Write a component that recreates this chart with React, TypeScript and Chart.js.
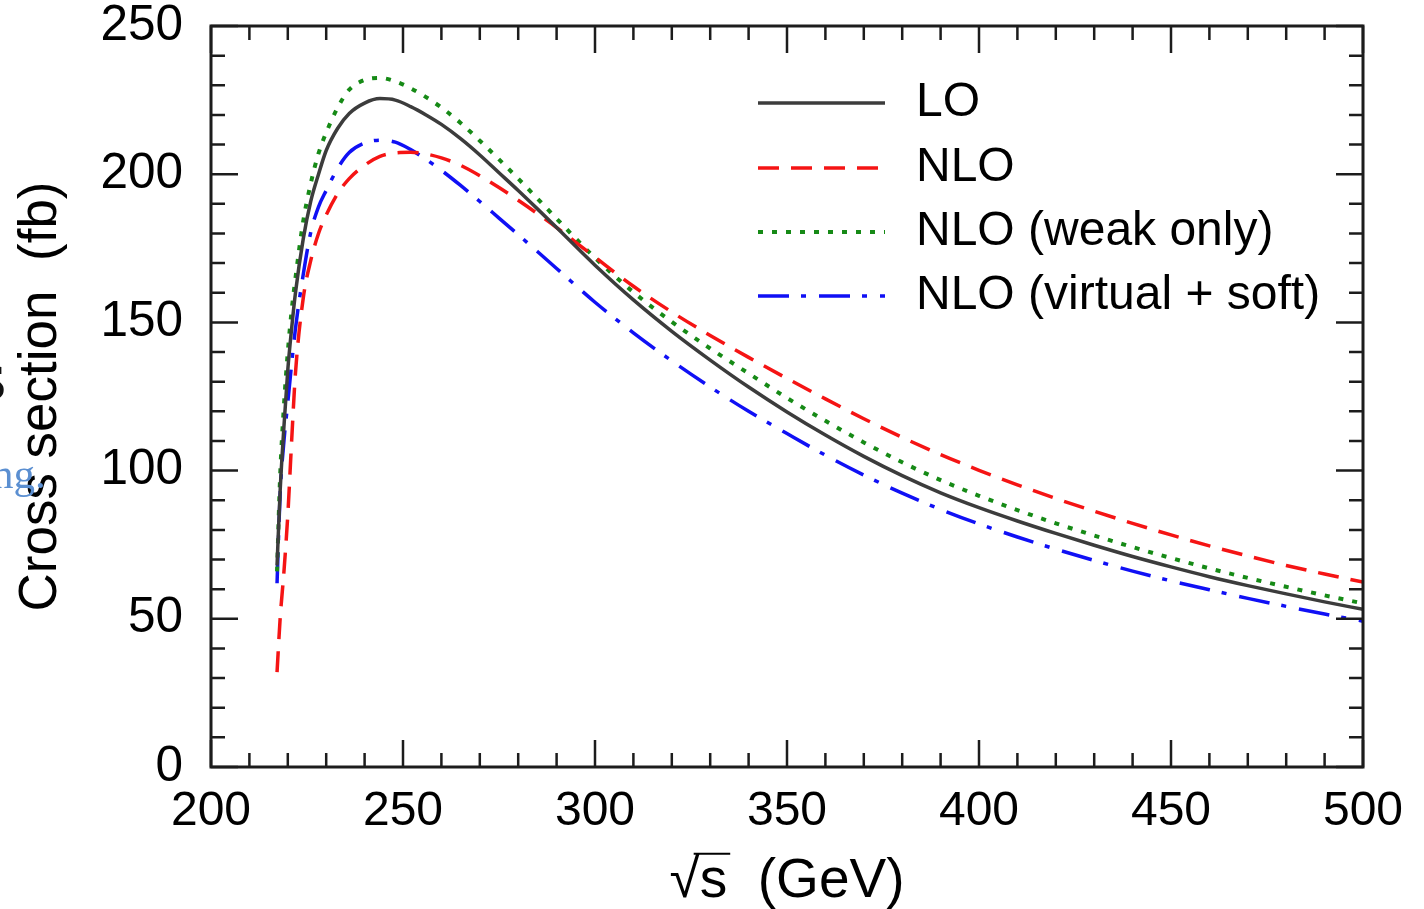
import React, { useEffect, useRef } from "react";
import { Chart, registerables } from "chart.js";

Chart.register(...registerables);

// Centre-of-mass energy grid (GeV)
const sqrtS = [
  217.2, 218, 219, 220, 221, 222, 224, 226, 228, 230, 233, 236, 240, 244, 248,
  252, 256, 260, 265, 270, 275, 280, 285, 290, 300, 310, 320, 330, 340, 350,
  360, 370, 380, 390, 400, 410, 420, 430, 440, 450, 460, 470, 480, 490, 500,
];

// Cross sections (fb)
const loXsec = [
  68, 93, 115, 134, 148, 160, 178, 191, 200, 208, 215.5, 220.5, 224, 225.5, 225,
  222.8, 220, 216.8, 212, 206.5, 200.5, 194.5, 188.3, 182, 169.3, 157.6, 147, 137.3, 128.2, 119.8,
  112, 104.8, 98.3, 92.5, 87.5, 83, 78.8, 74.8, 71, 67.5, 64.2, 61.2, 58.4, 55.7, 53.2,
];
const nloXsec = [
  32, 50, 66, 85, 110, 133, 158, 171, 180, 186.2, 193.5, 198.5, 203, 206, 207.2,
  207.4, 206.8, 205.5, 203, 199.5, 195.5, 191.2, 186.7, 182, 172, 162.2, 153.5, 145.6, 138.2, 131.1,
  124.2, 117.5, 111.2, 105.4, 100.1, 95.2, 90.6, 86.3, 82.2, 78.3, 74.6, 71.2, 68, 65.1, 62.4,
];
const nloWeakXsec = [
  66, 98, 122, 140, 154, 165, 184, 197, 207, 214, 222.5, 228.5, 231.8, 232.5, 231.3,
  229, 226, 222.5, 217.3, 211.3, 205, 198.5, 191.8, 185, 171.8, 160.2, 150.2, 141.2, 132.8, 124.5,
  116.8, 109.5, 102.8, 96.8, 91.5, 86.7, 82.2, 78.1, 74.2, 70.5, 67, 63.8, 60.8, 57.9, 55.2,
];
const nloVirtSoftXsec = [
  62, 92, 110, 123, 136, 148, 166, 180.5, 189, 194.5, 202, 207.3, 210.5, 211.5, 210.8,
  208.3, 205, 201.3, 196.2, 190.8, 185.2, 179.6, 173.9, 168.2, 156.8, 146.5, 137, 128.2, 120, 112.5,
  105.2, 98.5, 92.4, 86.9, 82, 77.6, 73.5, 69.7, 66.1, 62.8, 59.8, 56.9, 54.2, 51.6, 49.2,
];

const seriesLabels = ["LO", "NLO", "NLO (weak only)", "NLO (virtual + soft)"];

const xTitle = "\u221As  (GeV)";
const yTitle = "Cross section  (fb)";

const FONT = '"Liberation Sans", Arial, Helvetica, sans-serif';
const X_TICK_FONT_SIZE = 48;
const Y_TICK_FONT_SIZE = 49.5;
const LEGEND_FONT_SIZE = 48;
const X_TITLE_FONT_SIZE = 55;
const Y_TITLE_FONT_SIZE = 53;

const toPoints = (ys: number[]) => sqrtS.map((s, i) => ({ x: s, y: ys[i] }));

// Inward tick marks on all four sides, the frame, the legend and the
// bar over the "s" of the x-axis title.
const framePlugin = {
  id: "frameTicks",
  afterDatasetsDraw(chart: any) {
    const { ctx, chartArea } = chart;
    const { left, right, top, bottom } = chartArea;
    const xs = chart.scales.x;
    const ys = chart.scales.y;
    ctx.save();
    ctx.strokeStyle = "#1c1c1c";
    ctx.lineWidth = 2.5;
    ctx.setLineDash([]);
    ctx.beginPath();
    xs.ticks.forEach((t: any) => {
      const px = xs.getPixelForValue(t.value);
      const len = t.value % 50 === 0 ? 27 : 14;
      ctx.moveTo(px, bottom);
      ctx.lineTo(px, bottom - len);
      ctx.moveTo(px, top);
      ctx.lineTo(px, top + len);
    });
    ys.ticks.forEach((t: any) => {
      const py = ys.getPixelForValue(t.value);
      const len = t.value % 50 === 0 ? 27 : 14;
      ctx.moveTo(left, py);
      ctx.lineTo(left + len, py);
      ctx.moveTo(right, py);
      ctx.lineTo(right - len, py);
    });
    ctx.stroke();
    ctx.lineWidth = 3;
    ctx.strokeRect(left, top, right - left, bottom - top);
    ctx.restore();
  },
  afterDraw(chart: any) {
    const { ctx, chartArea } = chart;
    ctx.save();
    // legend
    const rowY = [103, 168, 232, 296];
    chart.data.datasets.forEach((ds: any, i: number) => {
      const y = rowY[i];
      ctx.beginPath();
      ctx.strokeStyle = ds.borderColor;
      ctx.lineWidth = ds.borderWidth;
      ctx.setLineDash(ds.borderDash || []);
      ctx.moveTo(758, y);
      ctx.lineTo(885, y);
      ctx.stroke();
      ctx.setLineDash([]);
      ctx.fillStyle = "#000";
      ctx.font = `${LEGEND_FONT_SIZE}px ${FONT}`;
      ctx.textAlign = "left";
      ctx.textBaseline = "middle";
      ctx.fillText(ds.label, 916, y);
    });
    // overline of the square root in the x-axis title
    const xs = chart.scales.x;
    ctx.font = `${X_TITLE_FONT_SIZE}px ${FONT}`;
    ctx.textBaseline = "middle";
    const titleY = xs.bottom - X_TITLE_FONT_SIZE / 2;
    const cx = (chartArea.left + chartArea.right) / 2;
    const w = ctx.measureText(xTitle).width;
    const x0 = cx - w / 2;
    const rad = ctx.measureText("\u221A");
    const rs = ctx.measureText("\u221As").width;
    const topY = titleY - rad.actualBoundingBoxAscent + 1;
    ctx.strokeStyle = "#000";
    ctx.lineWidth = 2;
    ctx.beginPath();
    ctx.moveTo(x0 + rad.width * 0.8, topY);
    ctx.lineTo(x0 + rs + 3, topY);
    ctx.stroke();
    ctx.restore();
  },
};

export default function App() {
  const ref = useRef<HTMLCanvasElement>(null);

  useEffect(() => {
    const canvas = ref.current;
    if (!canvas) return;
    Chart.defaults.font.family = FONT;
    const tickLabel = (v: any) => (Number(v) % 50 === 0 ? String(v) : "");
    const chart = new Chart(canvas, {
      type: "line",
      data: {
        datasets: [
          {
            label: seriesLabels[0],
            data: toPoints(loXsec),
            borderColor: "#3c3c3c",
            borderWidth: 3.5,
            borderDash: [],
          },
          {
            label: seriesLabels[1],
            data: toPoints(nloXsec),
            borderColor: "#f51414",
            borderWidth: 3.5,
            borderDash: [21, 12],
          },
          {
            label: seriesLabels[2],
            data: toPoints(nloWeakXsec),
            borderColor: "#168a16",
            borderWidth: 4,
            borderDash: [5, 9],
          },
          {
            label: seriesLabels[3],
            data: toPoints(nloVirtSoftXsec),
            borderColor: "#1010f5",
            borderWidth: 3.5,
            borderDash: [31, 12, 5, 13],
          },
        ],
      },
      options: {
        responsive: false,
        animation: false,
        events: [],
        layout: { padding: { top: 26, right: 61, bottom: 0, left: 0 } },
        elements: {
          point: { radius: 0 },
          line: { cubicInterpolationMode: "monotone", borderCapStyle: "butt" },
        },
        plugins: {
          legend: { display: false },
          tooltip: { enabled: false },
        },
        scales: {
          x: {
            type: "linear",
            min: 200,
            max: 500,
            afterFit: (s: any) => {
              s.height = 142;
            },
            grid: {
              display: true,
              drawOnChartArea: false,
              drawTicks: true,
              tickLength: 21,
              tickColor: "rgba(0,0,0,0)",
            },
            border: { display: false },
            ticks: {
              stepSize: 10,
              autoSkip: false,
              maxRotation: 0,
              padding: 0,
              color: "#000",
              font: { size: X_TICK_FONT_SIZE, lineHeight: 1 },
              callback: tickLabel,
            },
            title: {
              display: true,
              text: xTitle,
              color: "#000",
              font: { size: X_TITLE_FONT_SIZE, lineHeight: 1 },
              padding: { top: 0, bottom: 0 },
            },
          },
          y: {
            type: "linear",
            min: 0,
            max: 250,
            afterFit: (s: any) => {
              s.width = 211;
            },
            grid: {
              display: true,
              drawOnChartArea: false,
              drawTicks: true,
              tickLength: 28,
              tickColor: "rgba(0,0,0,0)",
            },
            border: { display: false },
            ticks: {
              stepSize: 10,
              autoSkip: false,
              padding: 0,
              color: "#000",
              font: { size: Y_TICK_FONT_SIZE, lineHeight: 1 },
              callback: tickLabel,
            },
            title: {
              display: true,
              text: yTitle,
              color: "#000",
              font: { size: Y_TITLE_FONT_SIZE, lineHeight: 1.2 },
              padding: { top: 10, bottom: 0 },
            },
          },
        },
      },
      plugins: [framePlugin],
    } as any);
    return () => chart.destroy();
  }, []);

  return (
    <div
      style={{
        position: "absolute",
        left: 0,
        top: 0,
        width: 1424,
        height: 909,
        background: "#fff",
        overflow: "hidden",
      }}
    >
      <canvas ref={ref} width={1424} height={909} style={{ display: "block" }} />
      <span
        style={{
          position: "absolute",
          left: -21,
          top: 341,
          font: '70px "Liberation Serif", "Times New Roman", serif',
          lineHeight: 1,
          color: "#111",
          whiteSpace: "nowrap",
        }}
      >
        s
      </span>
      <span
        style={{
          position: "absolute",
          left: -8,
          top: 452,
          font: '43px "Liberation Serif", "Times New Roman", serif',
          lineHeight: 1,
          color: "#5b8fd1",
          whiteSpace: "nowrap",
        }}
      >
        ng.
      </span>
    </div>
  );
}
